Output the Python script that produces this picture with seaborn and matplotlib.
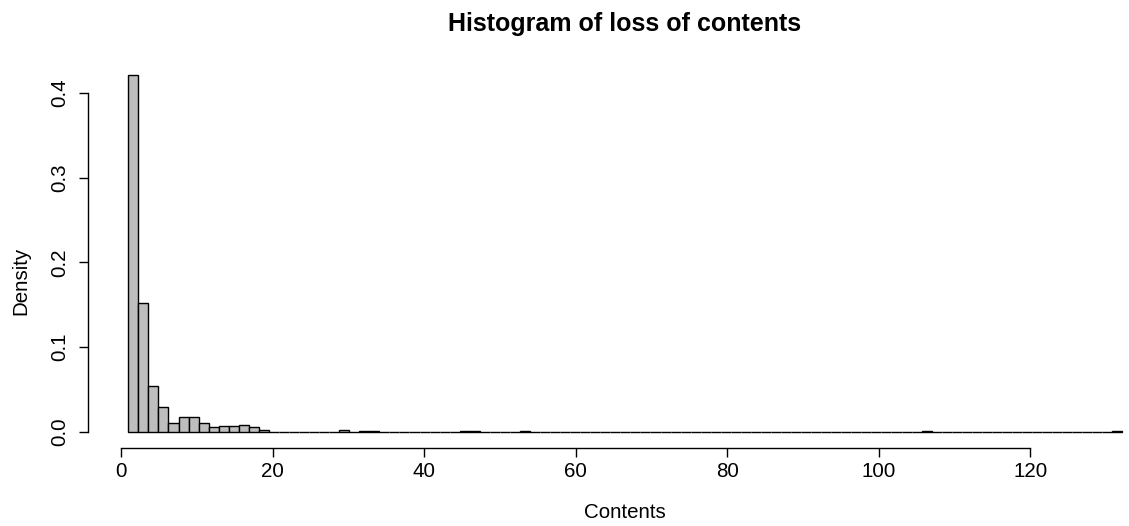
import numpy as np
import pandas as pd
import matplotlib
matplotlib.use("Agg")
import matplotlib.pyplot as plt
import seaborn as sns

# Histogram layout of the contents losses (equal-width bins)
bin_lo = 0.964
bin_width = 1.3254
n_bins = 99

# Observation counts in the first fourteen bins
head_counts = [340, 123, 44, 24, 8, 14, 14, 8, 4, 5, 5, 6, 4, 2]
# Sparse large losses further out: bin index and count
tail_bins = [21, 23, 24, 33, 34, 39, 79, 98]
tail_counts = [2, 1, 1, 1, 1, 1, 1, 1]

edges = bin_lo + bin_width * np.arange(n_bins + 1)
counts = np.zeros(n_bins)
counts[:len(head_counts)] = head_counts
counts[tail_bins] = tail_counts
df = pd.DataFrame({"Contents": edges[:-1] + bin_width / 2, "n": counts})

sns.set_style("ticks")
plt.rcParams["font.family"] = ["Liberation Sans", "DejaVu Sans"]
plt.rcParams["text.color"] = "black"
plt.rcParams["axes.labelcolor"] = "black"

W, H = 1129, 526
fig = plt.figure(figsize=(W / 100, H / 100), dpi=100)
# plot region in pixels (left, right, top, bottom)
L, R, T, B = 88.3, 1162.0, 60.0, 447.7
ax = fig.add_axes([L / W, 1 - B / H, (R - L) / W, (B - T) / H])

sns.histplot(data=df, x="Contents", weights="n", bins=edges.tolist(), stat="density",
             color="#BEBEBE", edgecolor="black", linewidth=1.0, alpha=1.0,
             ax=ax)

ax.set_xlim(-4.32, 137.4)
ax.set_ylim(-0.0189, 0.4388)

ax.set_xticks([0, 20, 40, 60, 80, 100, 120])
ax.set_yticks([0.0, 0.1, 0.2, 0.3, 0.4])
ax.set_yticklabels(["0.0", "0.1", "0.2", "0.3", "0.4"], rotation=90, va="center")

for s in ("top", "right"):
    ax.spines[s].set_visible(False)
ax.spines["bottom"].set_bounds(0, 120)
ax.spines["left"].set_bounds(0, 0.4)
for s in ("bottom", "left"):
    ax.spines[s].set_linewidth(1.0)
    ax.spines[s].set_color("black")

ax.tick_params(axis="x", length=6.5, width=1.0, pad=3.8, labelsize=14.75,
               colors="black", labelcolor="black")
ax.tick_params(axis="y", length=6.5, width=1.0, pad=7.5, labelsize=14.75,
               colors="black", labelcolor="black")
ax.set_xlabel("")
ax.set_ylabel("")
ax.grid(False)

fig.text(625 / W, 1 - 518.3 / H, "Contents", ha="center", va="baseline",
         fontsize=14.75, color="black")
fig.text(21 / W, 1 - 281 / H, "Density", ha="center", va="center", rotation=90,
         fontsize=14.75, color="black")
fig.text(625 / W, 1 - 30.7 / H, "Histogram of loss of contents", ha="center",
         va="baseline", fontsize=18.0, fontweight="bold", color="black")

fig.savefig("out.png", dpi=100)
